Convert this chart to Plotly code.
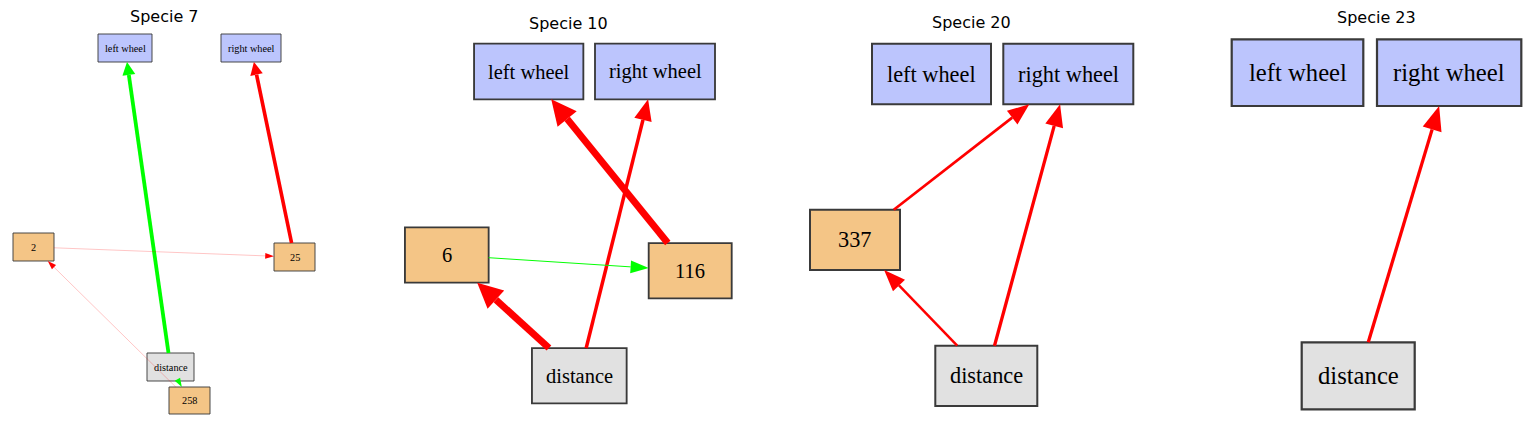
import numpy as np
import plotly.graph_objects as go
from plotly.subplots import make_subplots

# NEAT genomes of four species, drawn the way graphviz laid them out
TITLES = ["Specie 7", "Specie 10", "Specie 20", "Specie 23"]

# Specie 7
S7_NODES = ["left wheel", "right wheel", "2", "25", "distance", "258"]
S7_X = [117, 243, 25.5, 286.5, 162.5, 181.5]
S7_Y = [40, 40, 239, 249, 359, 392.5]
S7_W = [54, 60, 41, 41, 47, 41]
S7_H = [28, 28, 28, 28, 28, 27]
S7_SRC = ["distance", "25", "2", "258", "distance"]
S7_DST = ["left wheel", "right wheel", "25", "2", "258"]
S7_WEIGHT = [24, -23, -1, -1, 2]

# Specie 10
S10_NODES = ["left wheel", "right wheel", "6", "116", "distance"]
S10_X = [135.95, 262.25, 54.05, 297.45, 186.55]
S10_Y = [63.5, 63.5, 247, 262.7, 367.7]
S10_W = [109.3, 120, 83.7, 83, 94.7]
S10_H = [55.6, 55.6, 55.4, 55.3, 55.3]
S10_SRC = ["distance", "116", "distance", "6"]
S10_DST = ["6", "left wheel", "right wheel", "116"]
S10_WEIGHT = [-22, -22, -10.9, 2.7]

# Specie 20
S20_NODES = ["left wheel", "right wheel", "337", "distance"]
S20_X = [154, 290.8, 77.5, 208.8]
S20_Y = [66, 66, 231.85, 367.85]
S20_W = [119, 130, 90, 102]
S20_H = [60.6, 60.6, 60.3, 60.3]
S20_SRC = ["337", "distance", "distance"]
S20_DST = ["right wheel", "right wheel", "337"]
S20_WEIGHT = [-7.5, -9.3, -6.9]

# Specie 23
S23_NODES = ["left wheel", "right wheel", "distance"]
S23_X = [135.25, 286.9, 195.95]
S23_Y = [64.65, 64.65, 367.8]
S23_W = [131.6, 144.3, 113]
S23_H = [66.7, 66.7, 67]
S23_SRC = ["distance"]
S23_DST = ["right wheel"]
S23_WEIGHT = [-8.4]

panels = [
    (S7_NODES, S7_X, S7_Y, S7_W, S7_H, S7_SRC, S7_DST, S7_WEIGHT),
    (S10_NODES, S10_X, S10_Y, S10_W, S10_H, S10_SRC, S10_DST, S10_WEIGHT),
    (S20_NODES, S20_X, S20_Y, S20_W, S20_H, S20_SRC, S20_DST, S20_WEIGHT),
    (S23_NODES, S23_X, S23_Y, S23_W, S23_H, S23_SRC, S23_DST, S23_WEIGHT),
]

W, H = 1539, 427
PW = W / 4

def node_fill(name):
    if name in ("left wheel", "right wheel"):
        return "#BCC5FD"
    if name == "distance":
        return "#E1E1E1"
    return "#F4C586"

def clip(cx, cy, hw, hh, dx, dy):
    t = min(hw / abs(dx) if dx else np.inf, hh / abs(dy) if dy else np.inf)
    return cx + t * dx, cy + t * dy

fig = make_subplots(rows=1, cols=4, horizontal_spacing=0)

for k, (names, xs, ys, ws, hs, src, dst, wts) in enumerate(panels):
    col = k + 1
    scale = np.mean(hs) / 36
    pos = {n: (x, y, w / 2, h / 2) for n, x, y, w, h in zip(names, xs, ys, ws, hs)}

    for n in names:
        x, y, hw, hh = pos[n]
        fig.add_shape(type="rect", x0=x - hw, x1=x + hw, y0=y - hh, y1=y + hh,
                      fillcolor=node_fill(n), line=dict(color="#3A3A3A", width=1.2 * scale),
                      layer="below", row=1, col=col)
        fig.add_annotation(x=x, y=y, text=n, showarrow=False,
                           font=dict(family="Liberation Serif", size=13.3 * scale, color="#000"),
                           row=1, col=col)

    for s, d, wt in zip(src, dst, wts):
        sx, sy, shw, shh = pos[s]
        tx, ty, thw, thh = pos[d]
        dx, dy = tx - sx, ty - sy
        x0, y0 = clip(sx, sy, shw, shh, dx, dy)
        x1, y1 = clip(tx, ty, thw, thh, -dx, -dy)
        pen = 0.1 + abs(wt) / 5.0
        color = "#00FF00" if wt > 0 else "#FF0000"
        u = np.array([x1 - x0, y1 - y0])
        length = np.hypot(*u)
        u = u / length
        nrm = np.array([-u[1], u[0]])
        hl = (11 + 1.2 * pen) * scale
        hw_ = (3.5 + pen) * scale
        bx, by = x1 - hl * u[0], y1 - hl * u[1]
        if length > hl:
            fig.add_trace(go.Scatter(x=[x0, bx], y=[y0, by], mode="lines",
                                     line=dict(color=color, width=pen * scale),
                                     hoverinfo="skip", showlegend=False), row=1, col=col)
        p1 = (bx + hw_ * nrm[0], by + hw_ * nrm[1])
        p2 = (bx - hw_ * nrm[0], by - hw_ * nrm[1])
        path = f"M{x1},{y1} L{p1[0]},{p1[1]} L{p2[0]},{p2[1]} Z"
        fig.add_shape(type="path", path=path, fillcolor=color, line=dict(width=0),
                      layer="above", row=1, col=col)

    left = min(x - w / 2 for x, w in zip(xs, ws))
    right = max(x + w / 2 for x, w in zip(xs, ws))
    top = min(y - h / 2 for y, h in zip(ys, hs))
    fig.add_annotation(x=(left + right) / 2, y=top - (14 + 4 * scale), text=TITLES[k],
                       showarrow=False, font=dict(family="DejaVu Sans", size=16, color="#000"),
                       row=1, col=col)

    fig.update_xaxes(range=[0, PW], visible=False, fixedrange=True, row=1, col=col)
    fig.update_yaxes(range=[H, 0], visible=False, fixedrange=True, row=1, col=col)

fig.update_layout(
    width=W, height=H,
    margin=dict(l=0, r=0, t=0, b=0),
    plot_bgcolor="white", paper_bgcolor="white",
    showlegend=False,
)

fig.write_html("out.html")
